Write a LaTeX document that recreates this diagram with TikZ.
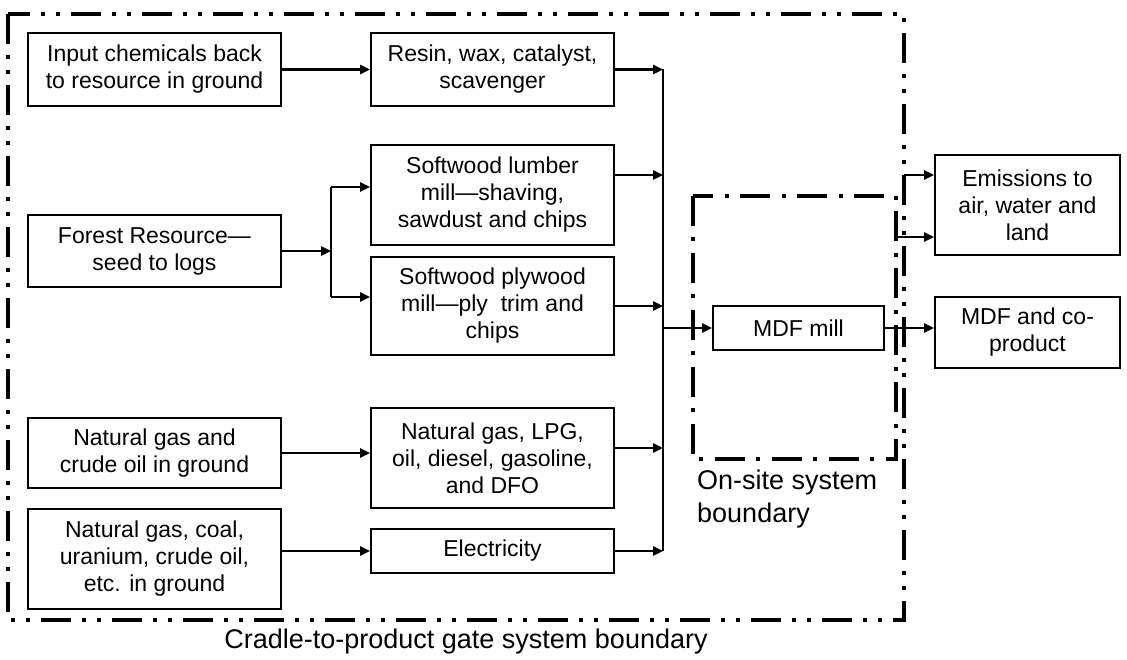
\documentclass[tikz,border=0pt]{standalone}
\usepackage{fontspec}
\setmainfont{Liberation Sans}
\usetikzlibrary{arrows.meta,positioning,calc}

\begin{document}
\begin{tikzpicture}[x=1pt, y=-1pt,
  box/.style={draw, line width=2pt, inner sep=0pt, align=center, font=\fontsize{23}{27}\selectfont},
  srcbox/.style={box, minimum width=253pt},
  midbox/.style={box, minimum width=243pt},
  outbox/.style={box, minimum width=185pt},
  lbl/.style={inner sep=0pt, font=\fontsize{27}{33}\selectfont},
  wire/.style={line width=2.4pt},
  flow/.style={line width=2.4pt, -{Triangle[length=10pt,width=9pt]}},
  gate/.style={line width=4pt, dash pattern=on 30pt off 11pt on 4pt off 11pt on 4pt off 11pt},
  site/.style={line width=4pt, dash pattern=on 30pt off 11pt on 4pt off 12pt}
]
  \useasboundingbox (0,0) rectangle (1127,660);

  % system boundaries
  \draw[gate] (8,14) rectangle (904,620);
  \draw[site] (693,196) rectangle (896,459);

  % resources in ground
  \node[srcbox, minimum height=73pt] (chem) at (154.5,69.5) {Input chemicals back\\to resource in ground};
  \node[srcbox, minimum height=72pt] (forest) at (154.5,251) {Forest Resource—\\seed to logs};
  \node[srcbox, minimum height=70pt] (crude) at (154.5,453) {Natural gas and\\crude oil in ground};
  \node[srcbox, minimum height=100pt] (fossil) at (154.5,559) {Natural gas, coal,\\uranium, crude oil,\\etc. in ground};

  % upstream products
  \node[midbox, minimum height=73pt] (resin) at (492.5,69.5) {Resin, wax, catalyst,\\scavenger};
  \node[midbox, minimum height=100pt] (lumber) at (492.5,195) {Softwood lumber\\mill—shaving,\\sawdust and chips};
  \node[midbox, minimum height=98pt] (plywood) at (492.5,306) {Softwood plywood\\mill—ply~ trim and\\chips};
  \node[midbox, minimum height=100pt] (fuel) at (492.5,458) {Natural gas, LPG,\\oil, diesel, gasoline,\\and DFO};
  \node[midbox, minimum height=44pt] (elec) at (492.5,551) {Electricity};

  % mill and outputs
  \node[box, minimum width=171pt, minimum height=44pt] (mdf) at (798.5,328) {MDF mill};
  \node[outbox, minimum height=100pt] (emis) at (1027.5,205) {Emissions to\\air, water and\\land};
  \node[outbox, minimum height=71pt] (prod) at (1027.5,332.5) {MDF and co-\\product};

  % boundary labels
  \node[lbl, anchor=north west, align=left] (sitelbl) at (697,470) {On-site system\\boundary};
  \node[lbl] (gatelbl) at (466,642) {Cradle-to-product gate system boundary};

  % junctions
  \coordinate (split) at (331,251);
  \coordinate (splitup) at (331,187);
  \coordinate (splitdn) at (331,297);
  \coordinate (colltop) at (663,69.5);
  \coordinate (collbot) at (663,551);
  \coordinate (lumberout) at ([yshift=20pt]lumber.east);
  \coordinate (fuelout) at ([yshift=10pt]fuel.east);
  \coordinate (gateout) at (904,175);
  \coordinate (siteout) at (896,237);

  \draw[flow] (chem) -- (resin);
  \draw[flow] (forest.east) -- (split);
  \draw[wire] (splitup) -- (splitdn);
  \draw[flow] (splitup) -- (splitup -| lumber.west);
  \draw[flow] (splitdn) -- (splitdn -| plywood.west);
  \draw[flow] (crude.east) -- (crude.east -| fuel.west);
  \draw[flow] (elec.west -| fossil.east) -- (elec.west);

  \draw[wire] (colltop) -- (collbot);
  \draw[flow] (resin.east) -- (colltop);
  \draw[flow] (lumberout) -- (lumberout -| colltop);
  \draw[flow] (plywood.east) -- (plywood.east -| colltop);
  \draw[flow] (fuelout) -- (fuelout -| colltop);
  \draw[flow] (elec.east) -- (collbot);
  \draw[flow] (colltop |- mdf.west) -- (mdf.west);
  \draw[flow] (mdf.east) -- (mdf.east -| prod.west);
  \draw[flow] (gateout) -- (gateout -| emis.west);
  \draw[flow] (siteout) -- (siteout -| emis.west);
\end{tikzpicture}
\end{document}
